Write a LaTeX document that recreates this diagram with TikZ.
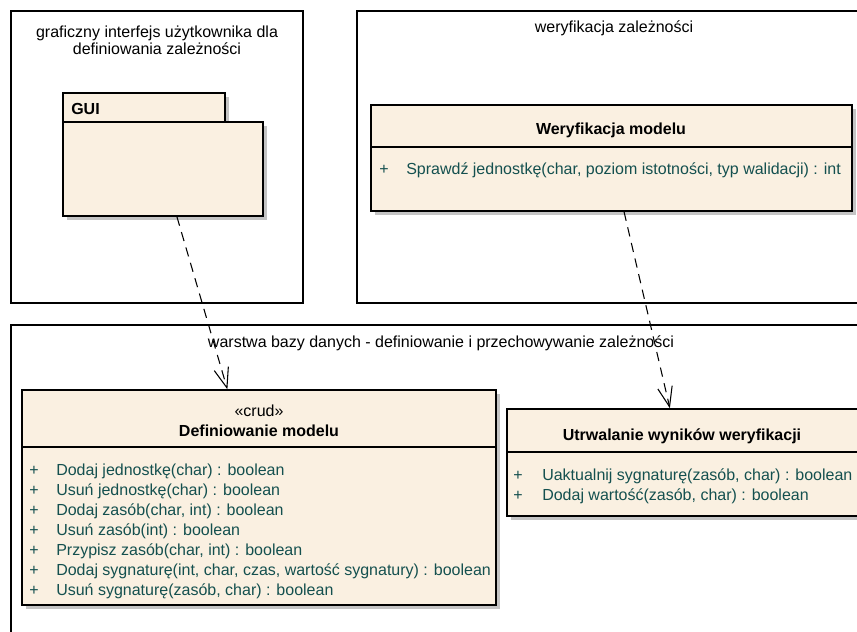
\documentclass[tikz,border=0pt]{standalone}
\usepackage{fontspec}
\setmainfont{Liberation Sans}
\usetikzlibrary{arrows.meta,shadows,fit}
\definecolor{classfill}{HTML}{FAF0E1}
\definecolor{optext}{HTML}{14504F}
\definecolor{shadowgray}{HTML}{C4C4C4}
\begin{document}
\begin{tikzpicture}[x=0.75pt, y=-0.75pt,
  frame/.style={draw, line width=1pt},
  umlbox/.style={draw, line width=1.1pt, fill=classfill, inner sep=0pt,
    drop shadow={shadow xshift=3pt, shadow yshift=-3pt, fill=shadowgray, opacity=1}},
  framelabel/.style={font=\fontsize{12}{12.75}\selectfont, inner sep=0pt, align=center},
  classname/.style={font=\fontsize{12}{14}\selectfont\bfseries, inner sep=0pt},
  stereo/.style={font=\fontsize{12}{14}\selectfont, inner sep=0pt},
  plus/.style={font=\fontsize{12}{14}\selectfont, text=optext, inner sep=0pt},
  op/.style={anchor=west, font=\fontsize{12}{14}\selectfont, text=optext, inner sep=0pt,
    text height=8.5pt, text depth=2.5pt},
  dep/.style={line width=0.8pt, dash pattern=on 7pt off 5pt,
    -{Straight Barb[length=15pt, width=11pt, line width=0.8pt]}}]

  \clip (0,0) rectangle (857,632);

  \draw[frame] (11,11) rectangle (303,303);
  \draw[frame] (357,11) rectangle (875,303);
  \draw[frame] (11,325) rectangle (875,650);
  \node[framelabel] (guiframe) at (157,40.5) {graficzny interfejs użytkownika dla\\definiowania zależności};
  \node[framelabel] (werframe) at (614,28) {weryfikacja zależności};
  \node[framelabel] (dbframe) at (441,343) {warstwa bazy danych - definiowanie i przechowywanie zależności};

  \node[umlbox, fit={(63,93) (225,122)}] (guitab) {};
  \node[umlbox, fit={(63,122) (263,216)}] (gui) {};
  \node[classname, anchor=west] (guiname) at (71,109) {GUI};

  \node[umlbox, fit={(371,105) (852,211)}] (wer) {};
  \draw[line width=1.1pt] (wer.west |- 0,147) -- (wer.east |- 0,147);
  \node[classname] (wername) at (611,130) {Weryfikacja modelu};
  \node[plus] (werplus1) at (384,170) {+};
  \node[op] (werop1) at (406,170) {Sprawdź jednostkę(char, poziom istotności, typ walidacji) : int};

  \node[umlbox, fit={(22,390) (496,605)}] (defmod) {};
  \draw[line width=1.1pt] (defmod.west |- 0,447) -- (defmod.east |- 0,447);
  \node[stereo] (defst) at (259,411) {«crud»};
  \node[classname] (defname) at (259,431) {Definiowanie modelu};
  \foreach \txt [count=\i] in {{Dodaj jednostkę(char) : boolean},
      {Usuń jednostkę(char) : boolean},
      {Dodaj zasób(char, int) : boolean},
      {Usuń zasób(int) : boolean},
      {Przypisz zasób(char, int) : boolean},
      {Dodaj sygnaturę(int, char, czas, wartość sygnatury) : boolean},
      {Usuń sygnaturę(zasób, char) : boolean}} {
    \node[plus] (defplus\i) at (34,451+20*\i) {+};
    \node[op] (defop\i) at (56,451+20*\i) {\txt};
  }

  \node[umlbox, fit={(507,409) (858,516)}] (store) {};
  \draw[line width=1.1pt] (store.west |- 0,452) -- (store.east |- 0,452);
  \node[classname] (storename) at (682,436) {Utrwalanie wyników weryfikacji};
  \node[plus] (storeplus1) at (518,476) {+};
  \node[op] (storeop1) at (542,476) {Uaktualnij sygnaturę(zasób, char) : boolean};
  \node[plus] (storeplus2) at (518,496) {+};
  \node[op] (storeop2) at (542,496) {Dodaj wartość(zasób, char) : boolean};

  \draw[dep] (gui) -- (defmod);
  \draw[dep] (wer) -- (store);
\end{tikzpicture}
\end{document}
